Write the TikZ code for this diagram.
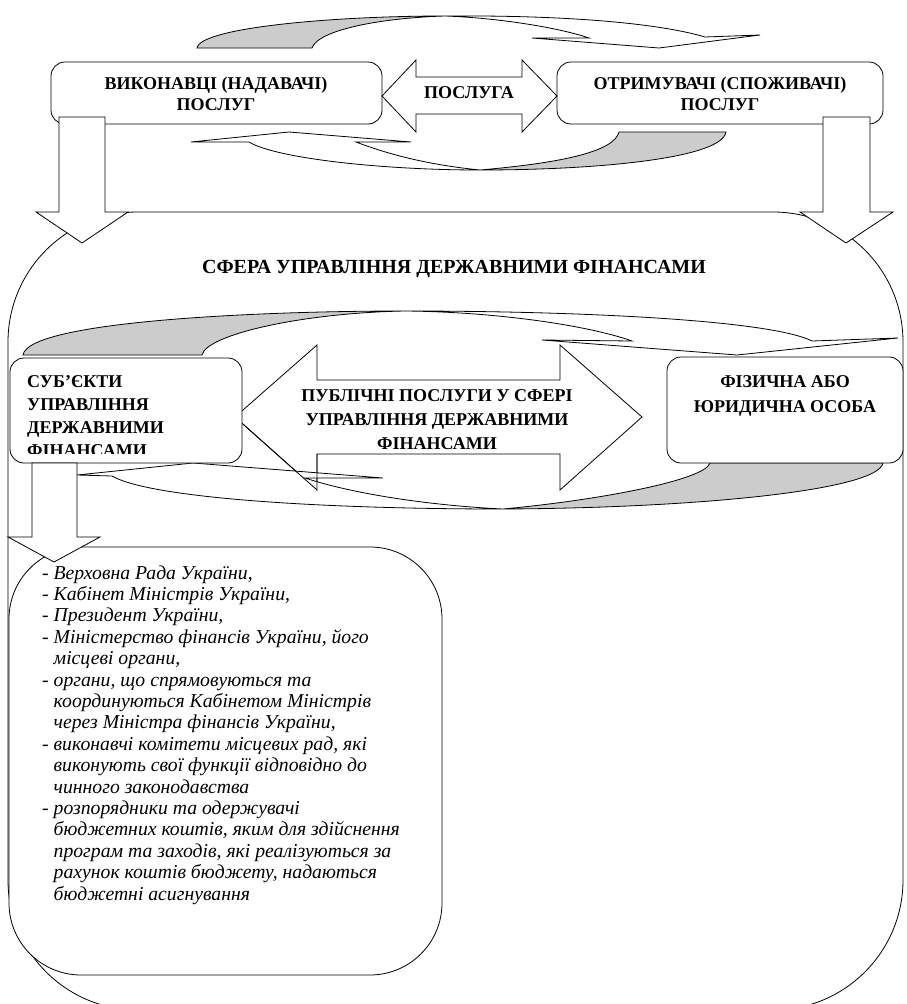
\documentclass[tikz,border=0pt]{standalone}
\usepackage{fontspec}
\setmainfont{Liberation Serif}
\definecolor{bandgray}{RGB}{204,204,204}
\newcommand\clines[1]{\vtop{\halign{\hfil##\hfil\cr#1\crcr}}}
\newcommand\llines[1]{\vtop{\halign{##\hfil\cr#1\crcr}}}
\begin{document}
\begin{tikzpicture}[x=1pt,y=-1pt,
  ln/.style={draw=black, line width=0.8pt, line join=miter},
  blockarrow/.style={ln, fill=white},
  backband/.style={ln, fill=bandgray},
  box/.style={ln, fill=white, rounded corners=14pt},
  capt/.style={inner sep=0pt, font=\fontsize{18}{21}\selectfont\bfseries},
  capm/.style={inner sep=0pt, font=\fontsize{18}{24}\selectfont\bfseries},
  listtxt/.style={inner sep=0pt, font=\fontsize{19.7}{21.4}\selectfont\itshape}]
\useasboundingbox (0,0) rectangle (907,1004);

% big sphere shape
\draw[ln, fill=white, rounded corners=130pt] (8,212) rectangle (903,1010);

% top boxes
\draw[box] (51,62) rectangle (382,124);
\draw[box] (557,62) rectangle (883,124);
\node[capt, anchor=base] (vyk) at (216,89) {\clines{ВИКОНАВЦІ (НАДАВАЧІ)\cr ПОСЛУГ}};
\node[capt, anchor=base] (otr) at (720,89) {\clines{ОТРИМУВАЧІ (СПОЖИВАЧІ)\cr ПОСЛУГ}};

% down arrows from top boxes
\draw[blockarrow] (59,117) -- (105,117) -- (105,212) -- (128,212) -- (82,243) -- (36,212) -- (59,212) -- cycle;
\draw[blockarrow] (823,117) -- (870,117) -- (870,212) -- (893,212) -- (846,243) -- (800,212) -- (823,212) -- cycle;

% service double arrow
\draw[blockarrow] (382,96) -- (416,60) -- (416,77) -- (522,77) -- (522,60) -- (557,96) -- (522,132) -- (522,114) -- (416,114) -- (416,132) -- cycle;
\node[capt, anchor=base] (posl) at (469,98) {ПОСЛУГА};

% small curved arrow on top
\draw[backband] (197,48) .. controls (200,28) and (330,16) .. (445,16) .. controls (380,18) and (318,30) .. (312,48) -- cycle;
\draw[blockarrow] (445,16) .. controls (580,15) and (665,25) .. (705,37) -- (760,35) -- (659,48) -- (532,38) -- (589,38) .. controls (560,28) and (500,18) .. (445,16) -- cycle;

% small curved arrow below
\draw[backband] (726,132) .. controls (722,158) and (600,170) .. (480,170) .. controls (560,163) and (614,152) .. (619,132) -- cycle;
\draw[blockarrow] (480,170) .. controls (380,170) and (275,158) .. (249,142) -- (191,142) -- (289,132) -- (411,142) -- (356,142) .. controls (390,155) and (430,165) .. (480,170) -- cycle;

% sphere title
\node[inner sep=0pt, font=\fontsize{20}{24}\selectfont\bfseries, anchor=base] (sfera) at (454,273) {СФЕРА УПРАВЛІННЯ ДЕРЖАВНИМИ ФІНАНСАМИ};

% big curved arrow on top
\draw[backband] (23,355) .. controls (28,322) and (250,311) .. (405,311) .. controls (300,313) and (206,335) .. (202,355) -- cycle;
\draw[blockarrow] (405,311) .. controls (580,311) and (770,320) .. (812,341) -- (898,338) -- (737,355) -- (542,340) -- (632,341) .. controls (590,326) and (500,312) .. (405,311) -- cycle;

% public services double arrow
\draw[blockarrow] (235,417) -- (317,345) -- (317,380) -- (560,380) -- (560,345) -- (642,417) -- (560,490) -- (560,454) -- (317,454) -- (317,490) -- cycle;

% big curved arrow below
\draw[backband] (883,463) .. controls (878,490) and (700,508) .. (503,509) .. controls (600,500) and (705,480) .. (710,463) -- cycle;
\draw[blockarrow] (503,509) .. controls (320,509) and (150,498) .. (112,476) -- (77,475) -- (193,463) -- (383,478) -- (305,478) .. controls (360,496) and (440,506) .. (503,509) -- cycle;
\draw[ln] (235,417) -- (317,490) -- (317,454);

\node[capm, anchor=base] (publ) at (437,401) {\clines{ПУБЛІЧНІ ПОСЛУГИ У СФЕРІ\cr УПРАВЛІННЯ ДЕРЖАВНИМИ\cr ФІНАНСАМИ}};

% middle boxes
\draw[box] (10,358) rectangle (242,463);
\begin{scope}
\clip (10,358) rectangle (242,453);
\node[capm, anchor=base west, font=\fontsize{18}{23.3}\selectfont\bfseries] (subj) at (27,387) {\llines{СУБ’ЄКТИ\cr УПРАВЛІННЯ\cr ДЕРЖАВНИМИ\cr ФІНАНСАМИ}};
\end{scope}
\draw[box] (667,357) rectangle (903,463);
\node[capm, anchor=base, font=\fontsize{18}{25}\selectfont\bfseries] (fiz) at (785,387) {\clines{ФІЗИЧНА АБО\cr ЮРИДИЧНА ОСОБА}};

% list box
\draw[ln, fill=white, rounded corners=72pt] (9,547) rectangle (442,975);
\node[listtxt, anchor=base west] (list) at (42,579) {\llines{%
- Верховна Рада України,\cr
- Кабінет Міністрів України,\cr
- Президент України,\cr
- Міністерство фінансів України, його\cr
\phantom{- }місцеві органи,\cr
- органи, що спрямовуються та\cr
\phantom{- }координуються Кабінетом Міністрів\cr
\phantom{- }через Міністра фінансів України,\cr
- виконавчі комітети місцевих рад, які\cr
\phantom{- }виконують свої функції відповідно до\cr
\phantom{- }чинного законодавства\cr
- розпорядники та одержувачі\cr
\phantom{- }бюджетних коштів, яким для здійснення\cr
\phantom{- }програм та заходів, які реалізуються за\cr
\phantom{- }рахунок коштів бюджету, надаються\cr
\phantom{- }бюджетні асигнування}};

% small down arrow to list
\draw[blockarrow] (32,463) -- (77,463) -- (77,537) -- (100,537) -- (54,562) -- (8,537) -- (32,537) -- cycle;
\end{tikzpicture}
\end{document}
